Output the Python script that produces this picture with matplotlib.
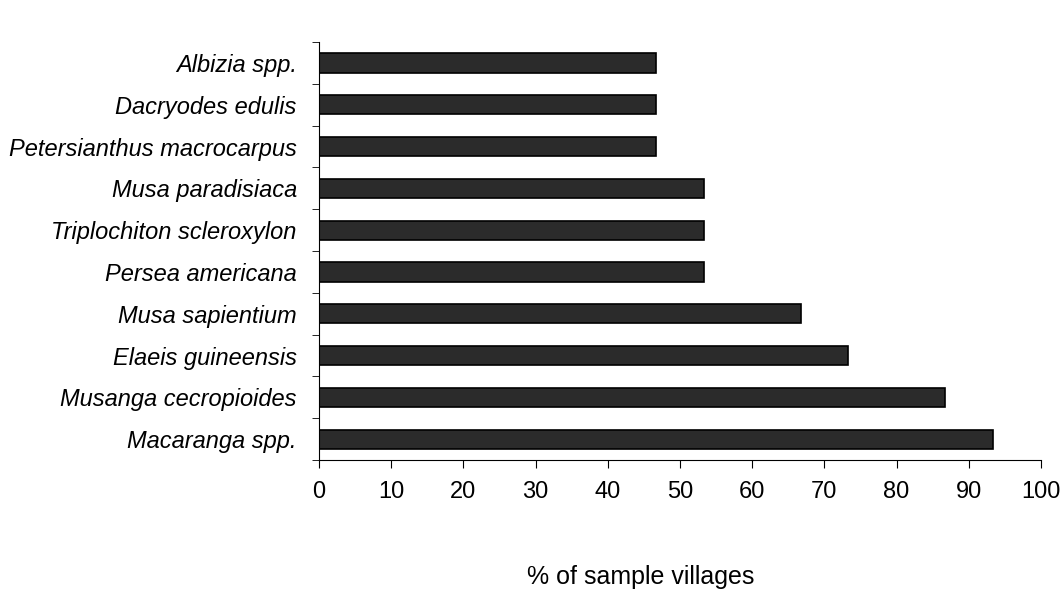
import numpy as np
import matplotlib.pyplot as plt

species = ['Albizia spp.', 'Dacryodes edulis', 'Petersianthus macrocarpus',
           'Musa paradisiaca', 'Triplochiton scleroxylon', 'Persea americana',
           'Musa sapientium', 'Elaeis guineensis', 'Musanga cecropioides',
           'Macaranga spp.']
pct_villages = [46.7, 46.7, 46.7, 53.3, 53.3, 53.3, 66.7, 73.3, 86.7, 93.3]

plt.rcParams['font.family'] = ['Liberation Sans', 'DejaVu Sans']

fig = plt.figure(figsize=(10.64, 5.9), dpi=100)
ax = fig.add_axes([0.2998, 0.2203, 0.6786, 0.7085])

y = np.arange(len(species))
ax.barh(y, pct_villages, height=0.46, color='#2b2b2b', edgecolor='black', linewidth=1.2)

ax.set_ylim(len(species) - 0.5, -0.5)
ax.set_xlim(0, 100)
ax.set_xticks(np.arange(0, 101, 10))

ax.set_yticks(y)
ax.set_yticklabels(species, fontsize=17, style='italic')
ax.set_yticks(np.arange(-0.5, len(species), 1), minor=True)
ax.tick_params(axis='y', which='major', length=0, pad=16)
ax.tick_params(axis='y', which='minor', length=5, direction='out')
ax.tick_params(axis='x', labelsize=17, length=6, direction='out', pad=9)

for s in ['top', 'right']:
    ax.spines[s].set_visible(False)
ax.spines['left'].set_linewidth(0.8)
ax.spines['bottom'].set_linewidth(0.8)

ax.set_xlabel('% of sample villages', fontsize=18)
ax.xaxis.set_label_coords(0.445, -0.25)

fig.savefig('out.png', dpi=100)
